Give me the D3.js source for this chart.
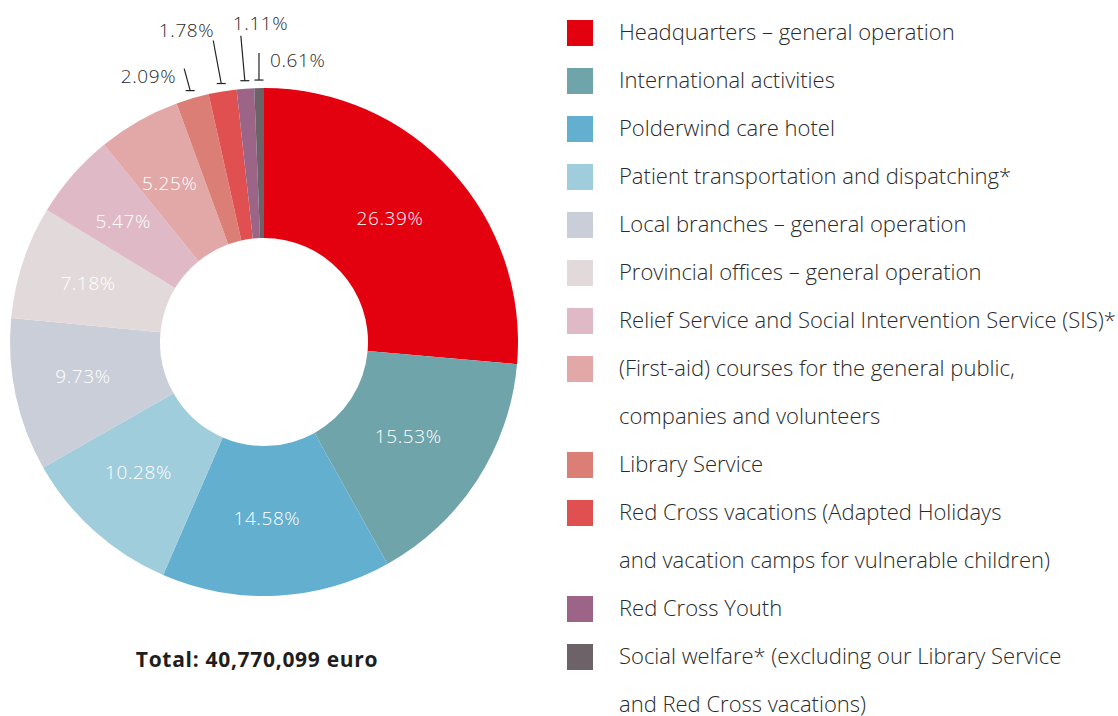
<!DOCTYPE html>
<html>
<head>
<meta charset="utf-8">
<script src="https://cdn.jsdelivr.net/npm/d3@7"></script>
<style>
  body { margin: 0; background: #fff; }
  svg text { font-family: "Open Sans", "DejaVu Sans", sans-serif; }
</style>
</head>
<body>
<div id="chart"></div>
<script>
// shares of the total budget, clockwise from 12 o'clock
var categories = [
  "Headquarters – general operation",
  "International activities",
  "Polderwind care hotel",
  "Patient transportation and dispatching*",
  "Local branches – general operation",
  "Provincial offices – general operation",
  "Relief Service and Social Intervention Service (SIS)*",
  "(First-aid) courses for the general public,\ncompanies and volunteers",
  "Library Service",
  "Red Cross vacations (Adapted Holidays\nand vacation camps for vulnerable children)",
  "Red Cross Youth",
  "Social welfare* (excluding our Library Service\nand Red Cross vacations)"
]
var shares = [26.39, 15.53, 14.58, 10.28, 9.73, 7.18, 5.47, 5.25, 2.09, 1.78, 1.11, 0.61]
var colors = ["#e3000f", "#6fa5aa", "#63afd0", "#a0cddb", "#c9ced8", "#e2d9da",
              "#e0b9c7", "#e2a8a7", "#db7f76", "#e05050", "#9c6587", "#6c6268"]
var totalLabel = "Total: 40,770,099 euro"

var W = 1118, H = 716
var cx = 264, cy = 342, rOut = 254, rIn = 104

var svg = d3.select('#chart').append('svg').attr('width', W).attr('height', H)

var pie = d3.pie().sort(null).value(d => d)
var arcs = pie(shares)
var arc = d3.arc().innerRadius(rIn).outerRadius(rOut)

var g = svg.append('g').attr('transform', 'translate(' + cx + ',' + cy + ')')

g.selectAll('path.slice')
  .data(arcs)
  .enter().append('path')
  .attr('class', 'slice')
  .attr('d', arc)
  .attr('fill', (d, i) => colors[i])

var fmt = d => d.toFixed(2) + '%'

// labels inside the ring for the bigger slices
var labelArc = d3.arc().innerRadius((rIn + rOut) / 2).outerRadius((rIn + rOut) / 2)
g.selectAll('text.inner')
  .data(arcs.filter(d => d.value > 5))
  .enter().append('text')
  .attr('class', 'inner')
  .attr('transform', d => { var c = labelArc.centroid(d); return 'translate(' + (c[0] - 6) + ',' + (c[1] + 4) + ')' })
  .attr('text-anchor', 'middle')
  .attr('font-size', 19)
  .attr('font-weight', 300)
  .attr('letter-spacing', 0.6)
  .attr('fill', '#fff')
  .text(d => fmt(d.value))

// small slices get a leader line; start offsets + text placement tuned by eye
var callouts = [
  {dx: -6, dy: -22, tx: -8, ty: 14, anchor: 'end'},
  {dx: -8, dy: -43, tx: 1, ty: -4, anchor: 'end'},
  {dx: -4, dy: -45, tx: -8, ty: -6, anchor: 'start'},
  {dx: 0, dy: -27, tx: 11, ty: 14, anchor: 'start'}
]
var small = arcs.filter(d => d.value < 5)
var rEnd = rOut + 8
small.forEach(function(d, i){
  var a = (d.startAngle + d.endAngle) / 2
  var x1 = rEnd * Math.sin(a), y1 = -rEnd * Math.cos(a)
  var co = callouts[i]
  var x0 = x1 + co.dx, y0 = y1 + co.dy
  g.append('line')
    .attr('x1', x0).attr('y1', y0).attr('x2', x1).attr('y2', y1)
    .attr('stroke', '#222').attr('stroke-width', 1.2)
  // little cap at the slice end
  g.append('line')
    .attr('x1', x1 - 4.5).attr('y1', y1).attr('x2', x1 + 4.5).attr('y2', y1)
    .attr('stroke', '#222').attr('stroke-width', 1.2)
  g.append('text')
    .attr('x', x0 + co.tx).attr('y', y0 + co.ty)
    .attr('text-anchor', co.anchor)
    .attr('font-size', 19)
    .attr('font-weight', 300)
    .attr('letter-spacing', 0.6)
    .attr('fill', '#2a2a2a')
    .text(fmt(d.value))
})

svg.append('text')
  .attr('x', 257).attr('y', 667)
  .attr('text-anchor', 'middle')
  .attr('font-size', 21)
  .attr('font-weight', 700)
  .attr('letter-spacing', 0.7)
  .attr('fill', '#1e1e1e')
  .text(totalLabel)

// legend: one row per line, 48px apart
var rowH = 48, legX = 567, legY = 33
var row = 0
var leg = svg.append('g')
categories.forEach(function(name, i){
  var lines = name.split('\n')
  leg.append('rect')
    .attr('x', legX).attr('y', legY + row * rowH - 13)
    .attr('width', 26).attr('height', 26)
    .attr('fill', colors[i])
  lines.forEach(function(l, j){
    leg.append('text')
      .attr('x', 619).attr('y', legY + (row + j) * rowH + 7)
      .attr('font-size', 22)
      .attr('font-weight', 300)
      .attr('fill', '#2a2a2a')
      .text(l)
  })
  row += lines.length
})
</script>
</body>
</html>
